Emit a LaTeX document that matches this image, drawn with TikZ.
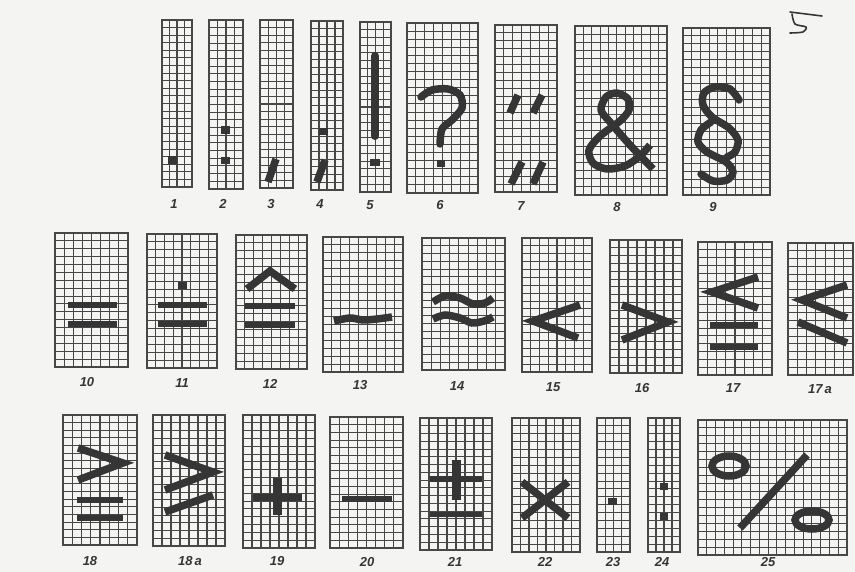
\documentclass[tikz,border=0pt]{standalone}
\usepackage{fontspec}
\setmainfont{Liberation Sans}
\definecolor{paper}{HTML}{F4F4F2}
\definecolor{ink}{HTML}{353535}
\definecolor{gridc}{HTML}{474747}
\tikzset{
  gridline/.style={draw=gridc, line width=1.05pt},
  boxline/.style={draw=gridc, line width=1.4pt},
  glyph/.style={draw=ink, line width=7.5pt},
  dotsq/.style={fill=ink},
  lbl/.style={text=ink, font=\fontsize{13}{13}\selectfont\bfseries\itshape, inner sep=0pt}
}
\newcommand\gbox[6]{%
  \pgfmathsetmacro\gdx{(#3-#1)/#5}%
  \pgfmathsetmacro\gdy{(#4-#2)/#6}%
  \foreach \k in {1,...,#5}{\draw[gridline] ({#1+\k*\gdx},#2) -- ({#1+\k*\gdx},#4);}%
  \foreach \k in {1,...,#6}{\draw[gridline] (#1,{#2+\k*\gdy}) -- (#3,{#2+\k*\gdy});}%
  \draw[boxline] (#1,#2) rectangle (#3,#4);%
}
\begin{document}
\begin{tikzpicture}[x=1pt,y=-1pt]
\fill[paper] (0,0) rectangle (855,572);
\useasboundingbox (0,0) rectangle (855,572);
% handwritten page number
\draw[ink, line width=1.6pt, line cap=round] (790,12) -- (822,16);
\draw[ink, line width=1.6pt, line cap=round, line join=round] plot[smooth] coordinates {(792,14) (795,24) (806,27) (803,32) (790,33)};
% ---------- row 1 ----------
\gbox{162}{20}{192}{187}{4}{22}
\gbox{209}{20}{243}{189}{4}{22}
\gbox{260}{20}{293}{188}{4}{22}
\gbox{311}{21}{343}{190}{4}{22}
\gbox{360}{22}{391}{192}{4}{22}
\gbox{407}{23}{478}{193}{8}{21}
\gbox{495}{25}{557}{192}{7}{21}
\gbox{575}{26}{667}{195}{11}{21}
\gbox{683}{28}{770}{195}{10}{21}
% glyphs row 1
\fill[dotsq] (168,156) rectangle (177,164);
\fill[dotsq] (221,126) rectangle (230,134);
\fill[dotsq] (221,157) rectangle (230,164);
\draw[glyph] (276,159) -- (268,182);
\fill[dotsq] (319,128) rectangle (328,135);
\draw[glyph] (325,160) -- (317,182);
\draw[glyph, line width=8pt, line cap=round] (375,56) -- (375,136);
\fill[dotsq] (370,159) rectangle (380,166);
\draw[glyph, line cap=round] plot[smooth] coordinates {(421,97) (432,90) (448,89) (460,95) (462,108) (452,120) (442,129) (440,144)};
\fill[dotsq] (437,160) rectangle (445,167);
\draw[glyph] (518,95) -- (510,113);
\draw[glyph] (542,95) -- (533,113);
\draw[glyph] (522,162) -- (511,184);
\draw[glyph] (543,162) -- (533,184);
\draw[glyph, line join=round] plot[smooth] coordinates {(653,169) (630,145) (610,122) (601,110) (606,97) (617,93) (628,99) (629,110) (620,121) (600,136) (589,150) (593,163) (607,169) (625,166) (640,156) (650,145)};
\draw[glyph, line cap=round] plot[smooth] coordinates {(739,100) (730,89) (715,87) (704,93) (703,105) (712,117) (729,128) (738,140) (735,152) (727,157)};
\draw[glyph, line cap=round] plot[smooth] coordinates {(711,122) (701,130) (698,142) (707,152) (726,162) (733,172) (727,180) (713,181) (701,174)};
% labels row 1
\node[lbl] (l1) at (174,204) {1};
\node[lbl] (l2) at (223,204) {2};
\node[lbl] (l3) at (271,204) {3};
\node[lbl] (l4) at (320,204) {4};
\node[lbl] (l5) at (370,205) {5};
\node[lbl] (l6) at (440,205) {6};
\node[lbl] (l7) at (521,206) {7};
\node[lbl] (l8) at (617,207) {8};
\node[lbl] (l9) at (713,207) {9};
% ---------- row 2 ----------
\gbox{55}{233}{128}{367}{8}{17}
\gbox{147}{234}{217}{368}{8}{17}
\gbox{236}{235}{307}{369}{8}{17}
\gbox{323}{237}{403}{372}{9}{17}
\gbox{422}{238}{505}{370}{9}{17}
\gbox{522}{238}{592}{372}{8}{17}
\gbox{610}{240}{682}{373}{8}{17}
\gbox{698}{242}{772}{375}{8}{17}
\gbox{788}{243}{853}{375}{7}{17}
% glyphs row 2
\fill[dotsq] (68,302) rectangle (117,308);
\fill[dotsq] (68,321) rectangle (117,327);
\fill[dotsq] (178,282) rectangle (187,289);
\fill[dotsq] (158,302) rectangle (207,308);
\fill[dotsq] (158,321) rectangle (207,327);
\draw[glyph] (247,289) -- (270,271) -- (295,289);
\fill[dotsq] (245,303) rectangle (295,309);
\fill[dotsq] (245,322) rectangle (295,328);
\draw[glyph] plot[smooth] coordinates {(334,321) (350,318) (363,320) (377,319) (392,317)};
\draw[glyph] plot[smooth] coordinates {(433,302) (445,296) (460,298) (473,304) (485,303) (493,298)};
\draw[glyph] plot[smooth] coordinates {(433,319) (445,315) (460,318) (472,323) (484,321) (493,317)};
\draw[glyph] (580,305) -- (533,321) -- (578,338);
\draw[glyph] (622,305) -- (668,322) -- (622,340);
\draw[glyph] (758,277) -- (712,292) -- (758,308);
\fill[dotsq] (710,322) rectangle (758,328);
\fill[dotsq] (710,344) rectangle (758,350);
\draw[glyph] (847,285) -- (802,300) -- (847,318);
\draw[glyph] (798,322) -- (847,343);
% labels row 2
\node[lbl] (l10) at (87,382) {10};
\node[lbl] (l11) at (182,383) {11};
\node[lbl] (l12) at (270,384) {12};
\node[lbl] (l13) at (360,385) {13};
\node[lbl] (l14) at (457,386) {14};
\node[lbl] (l15) at (553,387) {15};
\node[lbl] (l16) at (642,388) {16};
\node[lbl] (l17) at (733,388) {17};
\node[lbl] (l17a) at (820,389) {17\,\textit{a}};
% ---------- row 3 ----------
\gbox{63}{415}{137}{545}{8}{17}
\gbox{153}{415}{225}{546}{8}{17}
\gbox{243}{415}{315}{548}{8}{17}
\gbox{330}{417}{403}{548}{8}{17}
\gbox{420}{418}{492}{550}{8}{17}
\gbox{512}{418}{580}{552}{8}{17}
\gbox{597}{418}{630}{552}{4}{17}
\gbox{648}{418}{680}{552}{4}{17}
\gbox{698}{420}{847}{555}{17}{17}
% glyphs row 3
\draw[glyph] (78,448) -- (123,463) -- (78,480);
\fill[dotsq] (77,497) rectangle (123,503);
\fill[dotsq] (77,515) rectangle (123,521);
\draw[glyph] (165,455) -- (213,472) -- (165,490);
\draw[glyph] (165,512) -- (213,495);
\fill[dotsq] (253,494) rectangle (302,501);
\fill[dotsq] (273,478) rectangle (282,515);
\fill[dotsq] (342,496) rectangle (392,502);
\fill[dotsq] (430,476) rectangle (482,482);
\fill[dotsq] (452,460) rectangle (461,500);
\fill[dotsq] (430,512) rectangle (482,517);
\draw[glyph] (522,482) -- (568,518);
\draw[glyph] (568,482) -- (522,518);
\fill[dotsq] (608,498) rectangle (617,505);
\fill[dotsq] (660,483) rectangle (668,490);
\fill[dotsq] (660,513) rectangle (668,520);
\draw[glyph] (729,466) ellipse [x radius=17, y radius=10];
\draw[glyph] (807,455) -- (740,528);
\draw[glyph] (812,520) ellipse [x radius=17, y radius=9];
% labels row 3
\node[lbl] (l18) at (90,561) {18};
\node[lbl] (l18a) at (190,561) {18\,\textit{a}};
\node[lbl] (l19) at (277,561) {19};
\node[lbl] (l20) at (367,562) {20};
\node[lbl] (l21) at (455,562) {21};
\node[lbl] (l22) at (545,562) {22};
\node[lbl] (l23) at (613,562) {23};
\node[lbl] (l24) at (662,562) {24};
\node[lbl] (l25) at (768,562) {25};
\end{tikzpicture}
\end{document}
